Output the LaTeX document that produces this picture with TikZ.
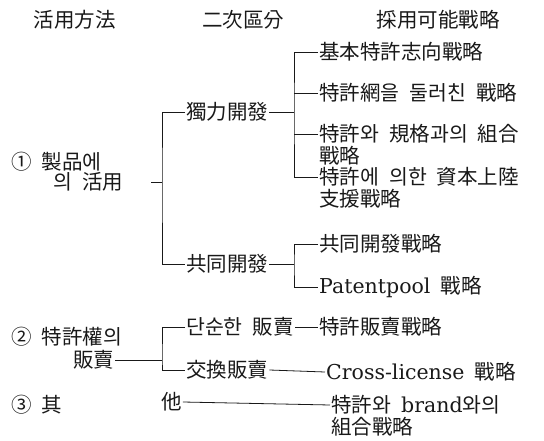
\documentclass[tikz,border=0pt]{standalone}
\usepackage{fontspec}
\setmainfont{Noto Sans CJK KR}[WordSpace=2.2]
\newfontfamily\latin{DejaVu Serif}
\usepackage{tikz}
\usetikzlibrary{positioning}
\colorlet{inkgray}{black!90}

\begin{document}
\begin{tikzpicture}[x=1pt, y=-1pt, every node/.style={inner sep=1pt, text=inkgray, font=\fontsize{20.5}{22}\selectfont},
		item/.style={anchor=west}, rule/.style={line width=0.8pt, inkgray}]
			\useasboundingbox (0,0) rectangle (544,441);
			\node (hMethod) at (75,20) {活用方法};
			\node (hClass) at (243,20) {二次區分};
			\node (hStrat) at (438,20) {採用可能戰略};
			\node[item] (use1) at (10,162) {① 製品에};
			\node[item] (use1b) at (52,182) {의 活用};
			\node[item] (own) at (185,112) {獨力開發};
			\node[item] (joint) at (185,264) {共同開發};
			\node[item] (s1) at (318,52) {基本特許志向戰略};
			\node[item] (s2) at (318,93) {特許網을 둘러친 戰略};
			\node[item] (s3) at (318,134) {特許와 規格과의 組合};
			\node[below=0pt of s3.south west, anchor=north west] (s3b) {戰略};
			\node[item] (s4) at (318,177) {特許에 의한 資本上陸};
			\node[below=0pt of s4.south west, anchor=north west] (s4b) {支援戰略};
			\node[item] (s5) at (318,244) {共同開發戰略};
			\node[item] (s6) at (318,287) {{\latin Patentpool} 戰略};
			\node[item] (use2) at (10,337) {② 特許權의};
			\node[item] (use2b) at (72,360) {販賣};
			\node[item] (simple) at (185,327) {단순한 販賣};
			\node[item] (swap) at (185,370) {交換販賣};
			\node[item] (s7) at (318,327) {特許販賣戰略};
			\node[item] (s8) at (325,372) {{\latin Cross-license} 戰略};
			\node[item] (use3) at (10,405) {③ 其};
			\node[item] (other) at (160,402) {他};
			\node[item] (s9) at (330,405) {特許와 {\latin brand}와의};
			\node[below=0pt of s9.south west, anchor=north west] (s9b) {組合戰略};
			\coordinate (bus1) at (162,182);
			\coordinate (bus2) at (294,112);
			\coordinate (bus3) at (294,264);
			\coordinate (bus4) at (162,360);
			\draw[rule] ([xshift=27pt]use1b.east) -- (bus1);
			\draw[rule] (own.west) -| (bus1) |- (joint.west);
			\draw[rule] (own.east) -- (bus2);
			\draw[rule] (s1.west) -| (bus2) |- (s4.west);
			\foreach \s in {s2,s3}
				\draw[rule] (\s.west) -- (\s.west -| bus2);
			\draw[rule] (joint.east) -- (bus3);
			\draw[rule] (s5.west) -| (bus3) |- (s6.west);
			\draw[rule] (use2b.east) -- (bus4);
			\draw[rule] (simple.west) -| (bus4) |- (swap.west);
			\draw[rule] (simple.east) -- (s7.west);
			\draw[rule] (swap.east) -- (s8.west);
			\draw[rule] (other.east) -- (s9.west);
		\end{tikzpicture}
\end{document}
